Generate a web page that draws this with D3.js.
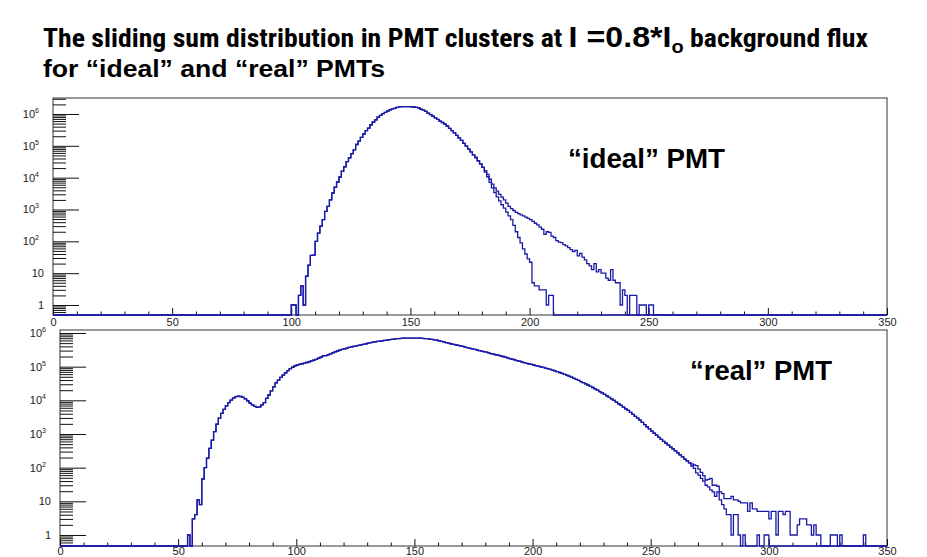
<!DOCTYPE html>
<html><head><meta charset="utf-8">
<script src="https://cdn.jsdelivr.net/npm/d3@7"></script>
<style>body{margin:0;background:#fff}svg{display:block}</style>
</head><body>
<svg id="c" width="927" height="557"></svg>
<script>
// ---------- data ----------
const xTickValues = [0, 50, 100, 150, 200, 250, 300, 350];
const yMajorValues = [1, 10, 100, 1000, 10000, 100000, 1000000];
const yMajorExponents = [0, 1, 2, 3, 4, 5, 6];
const nBins = 350;

// top panel ("ideal" PMT) – bin contents, 1 unit bins
const topStart = 100;
const topCommon = [1, 1, 0, 2, 4, 1, 8, 18, 36, 37,
  100, 180, 300, 480, 870, 1250, 2000, 3300, 5000, 7300,
  10500, 16000, 22000, 32000, 42000, 57000, 75000, 110000, 140000, 185000,
  235000, 300000, 360000, 460000, 560000, 660000, 790000, 910000, 1020000, 1120000,
  1240000, 1340000, 1440000, 1500000, 1620000, 1680000, 1700000, 1700000, 1700000, 1700000,
  1680000, 1660000, 1620000, 1550000, 1410000, 1320000, 1200000, 1070000, 950000, 850000,
  760000, 680000, 600000, 540000, 480000, 420000, 355000, 300000, 257000, 214000,
  178000, 148000, 120000, 98000, 79000, 65000, 52000, 43000, 34000, 27000,
  21000];
const topIdealTail = [15000, 10700, 7100, 4800, 3400, 2500, 1860, 1410, 1100, 830,
  630, 480, 316, 200, 132, 89, 58, 40, 28, 22,
  5, 4, 4, 3, 3, 3, 1, 2, 2];
const topRealTail = [16600, 12600, 8900, 6300, 4800, 3800, 3000, 2450, 2000, 1580,
  1260, 1070, 930, 810, 740, 680, 630, 575, 525, 480,
  425, 370, 330, 280, 240, 166, 200, 190, 145, 132,
  105, 95, 91, 79, 72, 63, 55, 48, 52, 35,
  42, 32, 26, 20, 17, 13, 20, 11, 13, 10,
  10, 7, 6, 13, 6, 5, 5, 1, 3, 2,
  0, 2, 2, 2, 0, 1, 1, 1, 0, 1, 1];

// bottom panel ("real" PMT)
const botStart = 54;
const botCommon = [1, 0, 3, 4, 11, 8,
  46, 100, 190, 375, 660, 1170, 1950, 2950, 4100, 5400,
  6800, 8500, 10200, 11700, 12800, 13400, 13000, 12200, 11000, 9600,
  8300, 7300, 6600, 6200, 6400, 7300, 8500, 11500, 14400, 19000,
  25000, 33000, 40000, 48000, 56000, 66000, 76000, 87000, 96000, 105000,
  112000, 117000, 122000, 128000, 133000, 140000, 150000, 155000, 165000, 178000,
  190000, 208000, 214000, 224000, 240000, 257000, 275000, 292000, 309000, 324000,
  339000, 355000, 372000, 385000, 398000, 412000, 427000, 442000, 457000, 479000,
  501000, 519000, 537000, 550000, 562000, 575000, 589000, 603000, 617000, 631000,
  646000, 661000, 676000, 684000, 692000, 700000, 708000, 708000, 708000, 708000,
  708000, 708000, 700000, 692000, 684000, 676000, 661000, 646000, 624000, 610000,
  589000, 562000, 543000, 519000, 501000, 479000, 462000, 447000, 427000, 412000,
  398000, 380000, 367000, 351000, 339000, 324000, 313000, 299000, 288000, 279000,
  269000, 257000, 245000, 237000, 226000, 219000, 209000, 200000, 191000, 182000,
  174000, 166000, 158000, 151000, 145000, 138000, 132000, 126000, 122000, 117000,
  112000, 107000, 104000, 99000, 95000, 91000, 87000, 83000, 79000, 75000,
  71000, 67000, 63000, 59000, 56000, 52000, 49000, 45000, 42000, 39000,
  36000, 33500, 31000, 28500, 26000, 24000, 22000, 20000, 18200, 16600,
  15100, 13600, 12300, 11100, 10000, 8900, 7900, 7100, 6300, 5600,
  5000, 4400, 3850, 3350, 2950, 2570, 2210, 1900, 1640, 1410,
  1220, 1060, 920, 790, 690, 600, 530, 470, 410, 360,
  316, 275, 240, 210, 180, 160, 138];
const botTailA = [130, 120, 115, 90, 72, 58, 43, 45, 48, 30,
  30, 28, 19, 17, 12, 12, 12, 14, 11, 11,
  10, 9, 9, 9, 5, 9, 6, 6, 5, 5,
  5, 5, 5, 3, 5, 5, 1, 5, 5, 4,
  5, 5, 1, 1, 1, 2, 3, 3, 3, 2,
  2, 1, 2, 1, 1, 0, 0, 0, 0, 1,
  1, 1, 0, 1, 0, 0, 0, 0, 0, 0,
  0, 0, 0, 1];
const botTailB = [112, 95, 70, 60, 48, 40, 30, 27, 22, 19,
  14, 19, 11, 8, 6, 4, 4, 1, 4, 4,
  1, 0, 1, 0, 0, 0, 0, 0, 1, 0,
  0, 1, 1];

const titleLine1a = "The sliding sum distribution in PMT clusters at ";
const titleLine1b = "I =0.8*I";
const titleLine1c = "o";
const titleLine1d = " background flux";
const titleLine2 = "for \u201cideal\u201d and \u201creal\u201d PMTs";
const topLabel = "\u201cideal\u201d PMT";
const botLabel = "\u201creal\u201d PMT";

// ---------- helpers ----------
function fullBins(start, values) {
  const arr = new Array(nBins).fill(0);
  values.forEach((v, i) => { arr[start + i] = v; });
  return arr;
}
const topIdeal = fullBins(topStart, topCommon.concat(topIdealTail));
const topReal = fullBins(topStart, topCommon.concat(topRealTail));
const botA = fullBins(botStart, botCommon.concat(botTailA));
const botB = fullBins(botStart, botCommon.concat(botTailB));

const svg = d3.select("#c");
const lineColor = "#1a1aa6";
const labelColor = "#222";

function drawPanel(p) {
  const x = d3.scaleLinear().domain([0, 350]).range([p.left, p.right]);
  const y = d3.scaleLog().domain([p.ymin, p.ymax]).range([p.bottom, p.top]);
  const g = svg.append("g");

  g.append("rect").attr("x", p.left).attr("y", p.top)
    .attr("width", p.right - p.left).attr("height", p.bottom - p.top)
    .attr("fill", "none").attr("stroke", "#333").attr("stroke-width", 1);

  const minors = [];
  for (let e = -1; e <= 6; e++) for (let k = 2; k <= 9; k++) {
    const v = k * Math.pow(10, e);
    if (v >= p.ymin && v <= p.ymax) minors.push(v);
  }
  const yMinorAxis = d3.axisLeft(y).tickValues(minors).tickSize(-13).tickFormat("");
  const yMajorAxis = d3.axisLeft(y).tickValues(yMajorValues).tickSize(-26).tickFormat("");
  [yMinorAxis, yMajorAxis].forEach(ax => {
    const a = g.append("g").attr("transform", `translate(${p.left},0)`).call(ax);
    a.select(".domain").remove();
    a.selectAll("line").attr("stroke", "#111").attr("stroke-width", 1);
  });

  const xMinor = d3.range(0, 351, 10).filter(v => v % 50 !== 0);
  const xMinorAxis = d3.axisBottom(x).tickValues(xMinor).tickSize(-3.5).tickFormat("");
  const xMajorAxis = d3.axisBottom(x).tickValues(xTickValues).tickSize(-7)
    .tickPadding(p.xPad).tickFormat(d3.format("d"));
  [xMinorAxis, xMajorAxis].forEach(ax => {
    const a = g.append("g").attr("transform", `translate(0,${p.bottom})`).call(ax);
    a.select(".domain").remove();
    a.selectAll("line").attr("stroke", "#111").attr("stroke-width", 1);
    a.selectAll("text").attr("font-family", "Liberation Sans, Arial, sans-serif")
      .attr("font-size", 11).attr("fill", labelColor);
  });

  yMajorValues.forEach((v, i) => {
    const ex = yMajorExponents[i];
    const t = g.append("text")
      .attr("y", y(v) + 4)
      .attr("text-anchor", "end")
      .attr("font-family", "Liberation Sans, Arial, sans-serif")
      .attr("font-size", 11).attr("fill", labelColor);
    if (ex <= 1) {
      t.attr("x", p.left - 9).text(ex === 0 ? "1" : "10");
    } else {
      t.attr("x", p.left - 14);
      t.append("tspan").text("10");
      t.append("tspan").attr("font-size", 7).attr("dy", -5).text(String(ex));
    }
  });

  const yv = c => (c > 0 ? y(c) : p.bottom);
  const line = d3.line().x(d => x(d[0])).y(d => yv(d[1])).curve(d3.curveStepAfter);
  p.series.forEach(s => {
    const pts = s.map((c, i) => [i, c]);
    pts.push([nBins, s[nBins - 1]]);
    g.append("path").attr("d", line(pts)).attr("fill", "none")
      .attr("stroke", lineColor).attr("stroke-width", 1.3);
  });

  g.append("text").attr("x", p.labelX).attr("y", p.labelY)
    .attr("font-family", "Liberation Sans, Arial, sans-serif")
    .attr("font-weight", "bold").attr("font-size", 27).attr("fill", "#000")
    .attr("textLength", p.labelW).attr("lengthAdjust", "spacingAndGlyphs")
    .text(p.label);
}

drawPanel({left: 53, right: 887, top: 98, bottom: 315, ymin: 0.485, ymax: 3.18e6, xPad: 3,
  series: [topReal, topIdeal], label: topLabel, labelX: 568, labelY: 168, labelW: 157});
drawPanel({left: 60, right: 887, top: 330, bottom: 546, ymin: 0.471, ymax: 1.227e6, xPad: 1,
  series: [botA, botB], label: botLabel, labelX: 690, labelY: 380, labelW: 142});

// ---------- title ----------
const narrow = "'Liberation Sans Narrow', 'Arial Narrow', 'Roboto Condensed', 'Open Sans', sans-serif";
const wide = "'Liberation Sans', Arial, sans-serif";
const t1 = svg.append("text").attr("x", 43).attr("y", 47)
  .attr("font-weight", "bold").attr("fill", "#000")
  .attr("textLength", 825).attr("lengthAdjust", "spacingAndGlyphs")
  .style("white-space", "pre");
t1.append("tspan").attr("font-family", narrow).attr("font-size", 25).text(titleLine1a);
t1.append("tspan").attr("font-family", wide).attr("font-size", 29).text(titleLine1b);
t1.append("tspan").attr("font-family", wide).attr("font-size", 18).attr("dy", 6).text(titleLine1c);
t1.append("tspan").attr("font-family", narrow).attr("font-size", 25).attr("dy", -6).text(titleLine1d);

svg.append("text").attr("x", 43).attr("y", 77)
  .attr("font-family", wide).attr("font-weight", "bold").attr("font-size", 23).attr("fill", "#000")
  .attr("textLength", 342).attr("lengthAdjust", "spacingAndGlyphs").text(titleLine2);
</script>
</body></html>
